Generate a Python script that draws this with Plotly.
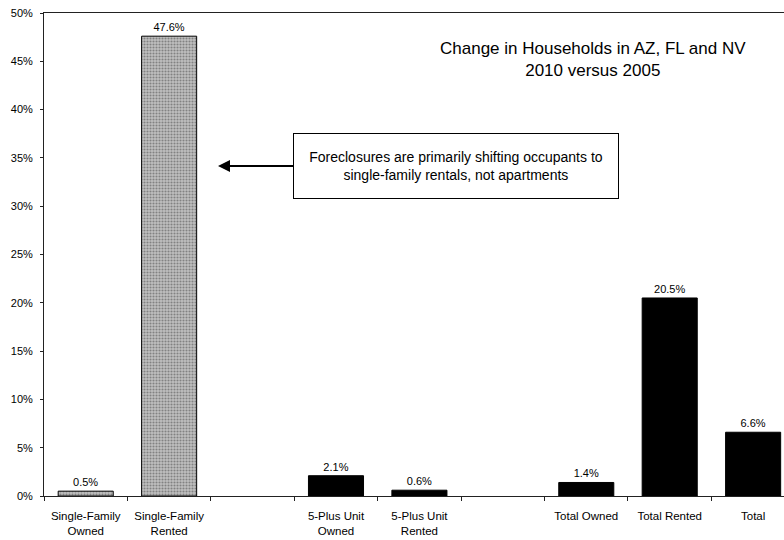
import plotly.graph_objects as go

categories = ["Single-Family<br>Owned", "Single-Family<br>Rented", " ",
              "5-Plus Unit<br>Owned", "5-Plus Unit<br>Rented", "  ",
              "Total Owned", "Total Rented", "Total"]
values = [0.5, 47.6, None, 2.1, 0.6, None, 1.4, 20.5, 6.6]
bar_groups = ["single", "single", None, "multi", "multi", None, "total", "total", "total"]

title_text = "Change in Households in AZ, FL and NV<br>2010 versus 2005"
note_text = "Foreclosures are primarily shifting occupants to<br>single-family rentals, not apartments"

FONT = "Arial, Liberation Sans, sans-serif"

colors = ["#c0c0c0" if g == "single" else "#000000" for g in bar_groups]
shapes = ["." if g == "single" else "" for g in bar_groups]

fig = go.Figure()
fig.add_trace(go.Bar(
    x=categories, y=values,
    width=0.66,
    marker=dict(color=colors,
                line=dict(color="#000000", width=1),
                pattern=dict(shape=shapes, bgcolor="#dcdcdc", fgcolor="#8c8c8c",
                             size=3, solidity=0.4)),
    texttemplate="%{y:.1f}%", textposition="outside",
    textfont=dict(family=FONT, size=11, color="#000"),
    cliponaxis=False, showlegend=False,
))

W, H = 784, 540
L, R, T, B = 44, 0, 13, 44
pw, ph = W - L - R, H - T - B

def px(x):
    return (x - L) / pw

def py(y):
    return (H - B - y) / ph

fig.add_annotation(xref="paper", yref="paper", x=px(593), y=py(59),
                   xanchor="center", yanchor="middle",
                   text=title_text, showarrow=False,
                   font=dict(family=FONT, size=17, color="#000"), align="center")

fig.add_annotation(xref="paper", yref="paper", x=px(218), y=py(166),
                   ax=456 - 218, ay=0,
                   text=note_text, showarrow=True, arrowhead=2, arrowsize=1.2,
                   arrowwidth=2, arrowcolor="#000",
                   bordercolor="#000", borderwidth=1, borderpad=6,
                   width=312, height=52, bgcolor="#fff",
                   font=dict(family=FONT, size=14, color="#000"), align="center")

fig.update_layout(
    width=W, height=H,
    margin=dict(l=L, r=R, t=T, b=B),
    plot_bgcolor="#fff", paper_bgcolor="#fff",
    font=dict(family=FONT, size=11, color="#000"),
    bargap=0.34,
)
fig.update_xaxes(type="category", range=[-0.5, 8.37], automargin=False,
                 showline=True, linecolor="#222", linewidth=1, mirror=True,
                 ticks="outside", tickson="boundaries", ticklen=4, tickcolor="#222",
                 ticklabelstandoff=9,
                 showgrid=False, tickfont=dict(family=FONT, size=11.5, color="#000"))
fig.update_yaxes(range=[0, 50], dtick=5, ticksuffix="%", automargin=False,
                 showline=True, linecolor="#222", linewidth=1,
                 ticks="outside", ticklen=3, tickcolor="#222", ticklabelstandoff=5,
                 showgrid=False, zeroline=False,
                 tickfont=dict(family=FONT, size=11, color="#000"))

fig.write_html("out.html", config={"displayModeBar": False},
               post_script="document.body.style.margin='0';document.body.style.padding='0';")
